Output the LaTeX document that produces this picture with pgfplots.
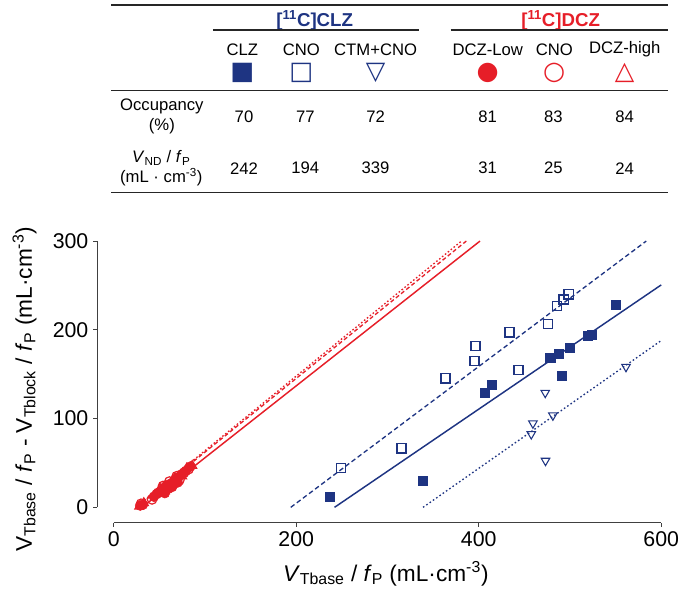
\documentclass[border=0pt]{standalone}
\usepackage{pgfplots}
\pgfplotsset{compat=1.18}
\usepackage{fontspec}
\setmainfont{Liberation Sans}
\newfontfamily\symfont{DejaVu Sans}
\definecolor{cblue}{RGB}{30,52,130}
\definecolor{cred}{RGB}{230,30,40}
\begin{document}
\begin{tikzpicture}
\useasboundingbox (0,0) rectangle (510pt,444pt);
% ---- table ----
\draw[line width=0.9pt, black!85] (83.25pt,440.25pt) -- (501pt,440.25pt);
\node[font=\fontsize{14}{16}\selectfont\bfseries, text=cblue] at (236pt,429pt) {[\textsuperscript{11}C]CLZ};
\node[font=\fontsize{14}{16}\selectfont\bfseries, text=cred] at (420.5pt,429pt) {[\textsuperscript{11}C]DCZ};
\draw[line width=0.9pt, black!85] (159.6pt,421.5pt) -- (314.3pt,421.5pt);
\draw[line width=0.9pt, black!85] (338pt,421.5pt) -- (501pt,421.5pt);
\begin{scope}[every node/.style={font=\fontsize{12.5}{15}\selectfont, inner sep=1pt}]
\node at (181.8pt,407pt) {CLZ};
\node at (226pt,407pt) {CNO};
\node at (281.7pt,407pt) {CTM+CNO};
\node at (365.8pt,407pt) {DCZ-Low};
\node at (415.7pt,407pt) {CNO};
\node at (468.5pt,407pt) {DCZ-high};
\node at (121.4pt,356.5pt) [align=center] {Occupancy\\(\%)};
\node at (121pt,317.8pt) [align=center] {\textit{V}\textsubscript{ND} / \textit{f}\textsubscript{P}\\(mL · cm\textsuperscript{-3})};
\node at (183pt,356.5pt) {70};
\node at (229pt,356.5pt) {77};
\node at (281.7pt,356.5pt) {72};
\node at (365.8pt,356.5pt) {81};
\node at (415pt,356.5pt) {83};
\node at (468.5pt,356.5pt) {84};
\node at (183pt,317.8pt) {242};
\node at (229pt,317.8pt) {194};
\node at (281.7pt,317.8pt) {339};
\node at (365.8pt,317.8pt) {31};
\node at (415pt,317.8pt) {25};
\node at (468.5pt,317.8pt) {24};
\end{scope}
\begin{scope}[every node/.style={font=\symfont\fontsize{19}{19}\selectfont, inner sep=0pt}]
\node[text=cblue] at (181.8pt,389pt) {■};
\node[text=cblue] at (226pt,389pt) {□};
\node[text=cblue] at (281.7pt,389pt) {▽};
\node[text=cred] at (365.8pt,389pt) {●};
\node[text=cred] at (415.7pt,389pt) {○};
\node[text=cred] at (468.5pt,389pt) {△};
\end{scope}
\draw[line width=0.9pt, black!85] (83.25pt,376pt) -- (501pt,376pt);
\draw[line width=0.9pt, black!85] (83.25pt,299.5pt) -- (501pt,299.5pt);
% ---- plot ----
\begin{axis}[
  at={(85.3pt,63.5pt)}, anchor=south west,
  scale only axis, width=410.6pt, height=199.7pt,
  xmin=0, xmax=600, ymin=0, ymax=300,
  axis lines=left,
  axis line style={-, line width=0.8pt, black!75},
  axis x line shift=11.5pt, axis y line shift=12.5pt,
  tick align=outside, major tick length=3pt,
  tick style={black!75, line width=0.8pt},
  xtick={0,200,400,600}, ytick={0,100,200,300},
  tick label style={font=\fontsize{16}{19}\selectfont},
  /pgf/number format/assume math mode=true,
  clip=false,
  xlabel={\textit{V}\textsubscript{Tbase} / \textit{f}\textsubscript{P} (mL·cm\textsuperscript{-3})},
  ylabel={V\textsubscript{Tbase} / \textit{f}\textsubscript{P} - V\textsubscript{Tblock} / \textit{f}\textsubscript{P} (mL·cm\textsuperscript{-3})},
  label style={font=\fontsize{17}{20}\selectfont},
  xlabel style={at={(axis description cs:0.497,-0.25)}, anchor=center},
  ylabel style={at={(axis description cs:-0.163,0.444)}, anchor=center},
]
% regression lines
\addplot[cblue, line width=1.1pt] coordinates {(242,0) (600,250.6)};
\addplot[cblue, line width=1.0pt, dash pattern=on 3.5pt off 2.2pt] coordinates {(194,0) (583.6,300)};
\addplot[cblue, line width=1.0pt, dash pattern=on 1.2pt off 1.8pt] coordinates {(339,0) (600,187.9)};
\addplot[cred, line width=1.1pt] coordinates {(31,0) (401.4,300)};
\addplot[cred, line width=1.0pt, dash pattern=on 3pt off 2pt] coordinates {(25,0) (386.4,300)};
\addplot[cred, line width=1.0pt, dash pattern=on 1.2pt off 1.6pt] coordinates {(24,0) (381.1,300)};
% CLZ
\addplot[only marks, mark=square*, mark size=3.4pt, cblue, mark options={fill=cblue}] coordinates {
(237.2,11.6) (338.4,29.6) (407.1,128.7) (414.8,137.7) (478.4,168.1) (487.9,172.6)
(491.2,147.9) (500,179.7) (519.3,193.3) (524.1,194.8) (550.4,228.6)};
% CNO (CLZ tracer)
\addplot[only marks, mark=square, mark size=3.4pt, cblue, mark options={line width=0.9pt}] coordinates {
(249.2,44.6) (315.4,66.4) (363.6,145.3) (395.4,164.7) (396.5,181.6) (433.8,197.1)
(443.6,155.0) (475.9,206.8) (486.1,226.7) (493,234.2) (498.5,239.9)};
% CTM+CNO
\addplot[only marks, mark=triangle, mark size=3.7pt, cblue, mark options={rotate=180, line width=0.8pt}] coordinates {
(472.9,129.1) (481.3,103.6) (459.4,94.6) (457.6,82.5) (473.2,52.5) (561.4,158.3)};
% DCZ-Low
\addplot[only marks, mark=*, mark size=3.7pt, cred, mark options={fill=cred}] coordinates {
(29,2) (32,3) (44,12) (47,15) (52,19) (55,22) (58,25) (60,21) (63,27) (66,30)
(68,32) (71,34) (74,37) (79,41) (84,46) (56,16) (64,23) (70,28)};
% CNO (DCZ tracer)
\addplot[only marks, mark=o, mark size=3.6pt, cred, mark options={line width=0.9pt}] coordinates {
(30,4) (42,9) (50,17) (54,24) (57,20) (61,29) (65,26) (69,35) (72,31) (77,39) (82,43)};
% DCZ-high
\addplot[only marks, mark=triangle, mark size=3.8pt, cred, mark options={line width=0.9pt}] coordinates {
(28,1) (33,5) (45,14) (51,21) (56,18) (62,24) (67,33) (70,29) (75,35) (80,44) (86,47)};
\end{axis}
\end{tikzpicture}
\end{document}
